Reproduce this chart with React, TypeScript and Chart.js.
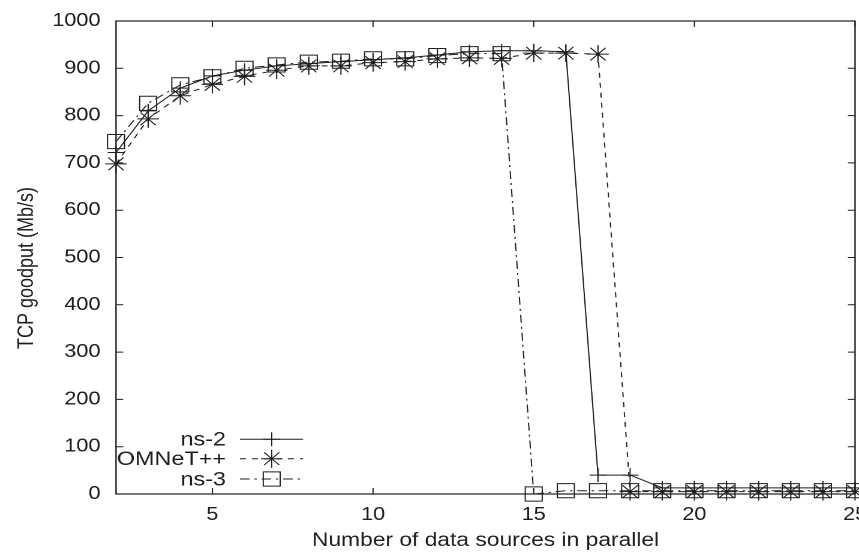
import React, { useEffect, useRef } from 'react';
import { Chart, registerables } from 'chart.js';

Chart.register(...registerables);

// ---- data ----
const sources = [2, 3, 4, 5, 6, 7, 8, 9, 10, 11, 12, 13, 14, 15, 16, 17, 18, 19, 20, 21, 22, 23, 24, 25];
const ns2Goodput = [722, 810, 858, 884, 896, 905, 910, 914, 918, 922, 928, 935, 937, 937, 935, 40, 40, 13, 13, 13, 13, 13, 13, 13];
const omnetGoodput = [698, 793, 842, 866, 883, 896, 905, 905, 912, 914, 920, 922, 921, 932, 932, 930, 5, 5, 5, 5, 5, 5, 5, 5];
const ns3Goodput = [745, 826, 865, 882, 900, 907, 913, 915, 920, 920, 927, 931, 931, 0, 7, 7, 7, 7, 7, 7, 7, 7, 7, 7];
const xTickValues = [5, 10, 15, 20, 25];
const yTickValues = [0, 100, 200, 300, 400, 500, 600, 700, 800, 900, 1000];
const seriesLabels = ['ns-2', 'OMNeT++', 'ns-3'];
const xTitle = 'Number of data sources in parallel';
const yTitle = 'TCP goodput (Mb/s)';

// ---- look ----
const INNER_W = 716;
const INNER_H = 557;
const CSS_W = 859;
const INK = '#1e1e1e';
const FONT = '"Liberation Sans", Arial, Helvetica, sans-serif';

const dashes: number[][] = [[], [5, 5], [8, 4, 2, 4]];
const markerStyles = ['cross', 'star', 'rect'];
const markerRadius = [7, 9, 10];

function drawMarker(ctx: CanvasRenderingContext2D, style: string, x: number, y: number, r: number) {
  ctx.beginPath();
  if (style === 'cross') {
    ctx.moveTo(x - r, y); ctx.lineTo(x + r, y);
    ctx.moveTo(x, y - r); ctx.lineTo(x, y + r);
  } else if (style === 'star') {
    ctx.moveTo(x - r, y); ctx.lineTo(x + r, y);
    ctx.moveTo(x, y - r); ctx.lineTo(x, y + r);
    const d = r * Math.SQRT1_2;
    ctx.moveTo(x - d, y - d); ctx.lineTo(x + d, y + d);
    ctx.moveTo(x - d, y + d); ctx.lineTo(x + d, y - d);
  } else {
    const s = r * Math.SQRT1_2;
    ctx.rect(x - s, y - s, 2 * s, 2 * s);
  }
  ctx.stroke();
}

const framePlugin = {
  id: 'gnuFrame',
  beforeDatasetsDraw(chart: any) {
    const { ctx, chartArea } = chart;
    const { left, right, top, bottom } = chartArea;
    const xs = chart.scales.x;
    const ys = chart.scales.y;
    ctx.save();
    ctx.strokeStyle = INK;
    ctx.lineWidth = 1.2;
    ctx.strokeRect(left, top, right - left, bottom - top);
    ctx.lineWidth = 1;
    ctx.beginPath();
    const t = 6;
    xTickValues.forEach((v) => {
      const px = xs.getPixelForValue(v);
      ctx.moveTo(px, bottom); ctx.lineTo(px, bottom - t);
      ctx.moveTo(px, top); ctx.lineTo(px, top + t);
    });
    yTickValues.forEach((v) => {
      const py = ys.getPixelForValue(v);
      ctx.moveTo(left, py); ctx.lineTo(left + t, py);
      ctx.moveTo(right, py); ctx.lineTo(right - t, py);
    });
    ctx.stroke();
    // y axis title
    ctx.fillStyle = INK;
    ctx.font = `18px ${FONT}`;
    ctx.textAlign = 'center';
    ctx.textBaseline = 'middle';
    ctx.translate(22.5, 268);
    ctx.rotate(-Math.PI / 2);
    ctx.fillText(yTitle, 0, 0);
    ctx.restore();
  },
  afterDatasetsDraw(chart: any) {
    const { ctx } = chart;
    const rows = [439.3, 458.7, 479];
    ctx.save();
    ctx.font = `19.5px ${FONT}`;
    ctx.fillStyle = INK;
    ctx.strokeStyle = INK;
    ctx.lineWidth = 1;
    ctx.textAlign = 'right';
    ctx.textBaseline = 'middle';
    seriesLabels.forEach((lab, i) => {
      const y = rows[i];
      ctx.fillText(lab, 188.4, y + 1);
      ctx.setLineDash(dashes[i]);
      ctx.beginPath();
      ctx.moveTo(200, y);
      ctx.lineTo(252.6, y);
      ctx.stroke();
      ctx.setLineDash([]);
      drawMarker(ctx, markerStyles[i], 226.5, y, markerRadius[i]);
    });
    ctx.restore();
  },
};

export default function App() {
  const canvasRef = useRef<HTMLCanvasElement | null>(null);

  useEffect(() => {
    const canvas = canvasRef.current;
    if (!canvas) return;
    const series = [ns2Goodput, omnetGoodput, ns3Goodput];
    const chart = new Chart(canvas, {
      type: 'line',
      data: {
        datasets: series.map((vals, i) => ({
          label: seriesLabels[i],
          data: sources.map((s, k) => ({ x: s, y: vals[k] })),
          borderColor: INK,
          backgroundColor: 'transparent',
          borderWidth: 1,
          borderDash: dashes[i],
          pointStyle: markerStyles[i] as any,
          pointRadius: markerRadius[i],
          pointBorderWidth: 1,
          pointBorderColor: INK,
          pointBackgroundColor: 'transparent',
          pointHoverRadius: markerRadius[i],
          fill: false,
          tension: 0,
          clip: false as any,
        })),
      },
      options: {
        responsive: false,
        animation: false,
        devicePixelRatio: 2,
        events: [],
        layout: { autoPadding: false, padding: { left: 0, top: 21, right: 3.3, bottom: 0 } },
        plugins: {
          legend: { display: false },
          tooltip: { enabled: false },
          title: { display: false },
        },
        scales: {
          x: {
            type: 'linear',
            min: 2,
            max: 25,
            offset: false,
            grid: { display: false, drawTicks: false },
            border: { display: false },
            afterBuildTicks: (scale: any) => {
              scale.ticks = xTickValues.map((v) => ({ value: v }));
            },
            afterFit: (scale: any) => {
              scale.height = 63;
              scale.paddingLeft = 0;
              scale.paddingRight = 0;
            },
            ticks: {
              color: INK,
              padding: 10,
              maxRotation: 0,
              autoSkip: false,
              font: { family: FONT, size: 18 },
              callback: (v: any) => String(v),
            },
            title: {
              display: true,
              text: xTitle,
              color: INK,
              font: { family: FONT, size: 19 },
              padding: { top: 0, bottom: 5 },
            },
          },
          y: {
            type: 'linear',
            min: 0,
            max: 1000,
            grid: { display: false, drawTicks: false },
            border: { display: false },
            afterBuildTicks: (scale: any) => {
              scale.ticks = yTickValues.map((v) => ({ value: v }));
            },
            afterFit: (scale: any) => {
              scale.width = 96.7;
              scale.paddingTop = 0;
              scale.paddingBottom = 0;
            },
            ticks: {
              color: INK,
              padding: 13,
              font: { family: FONT, size: 18 },
              callback: (v: any) => String(v),
            },
          },
        },
      },
      plugins: [framePlugin],
    });
    return () => chart.destroy();
  }, []);

  return (
    <div style={{ position: 'fixed', left: 0, top: 0, width: CSS_W, height: INNER_H, background: '#fff' }}>
      <canvas
        ref={canvasRef}
        width={INNER_W}
        height={INNER_H}
        style={{ width: CSS_W + 'px', height: INNER_H + 'px', display: 'block' }}
      />
    </div>
  );
}
